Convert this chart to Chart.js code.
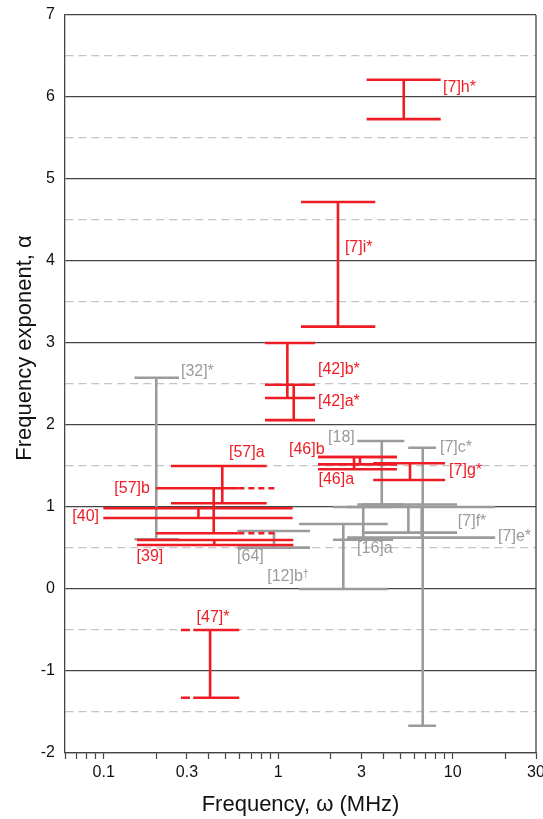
<!DOCTYPE html>
<html>
<head>
<meta charset="utf-8">
<script src="https://cdn.jsdelivr.net/npm/chart.js@4"></script>
<style>
  html, body { margin: 0; padding: 0; background: #fff; }
  #wrap { width: 543px; height: 819px; }
</style>
</head>
<body>
<div id="wrap"><canvas id="alphaChart"></canvas></div>
<script>
// one entry per study: band of frequencies (MHz) and range of the exponent alpha
const studies  = ['[7]h*', '[7]i*', '[42]b*', '[42]a*', '[57]a', '[57]b', '[40]', '[39]', '[47]*', '[46]b', '[46]a', '[7]g*',
                  '[32]*', '[64]', '[12]b\u2020', '[16]a', '[18]', '[7]c*', '[7]f*', '[7]e*'];
const group    = ['A', 'A', 'A', 'A', 'A', 'A', 'A', 'A', 'A', 'A', 'A', 'A',
                  'B', 'B', 'B', 'B', 'B', 'B', 'B', 'B'];
const fLow     = [3.21, 1.35, 0.84, 0.84, 0.243, 0.199, 0.0995, 0.155, 0.326, 1.69, 1.69, 3.5,
                  0.150, 0.583, 1.316, 2.06, 2.84, 5.56, 3.02, 2.48];
const fHigh    = [8.53, 3.6, 1.625, 1.625, 0.859, 0.591, 1.21, 1.22, 0.598, 4.79, 4.79, 9.04,
                  0.27, 1.52, 4.24, 4.55, 5.28, 8.02, 10.58, 17.5];
const fBar     = [5.24, 2.2, 1.128, 1.227, 0.478, 0.427, 0.349, 0.43, 0.407, 2.94, 2.72, 5.69,
                  0.2, 0.946, 2.36, 3.07, 3.92, 6.73, 5.57, 6.64];
const alphaLo  = [5.73, 3.2, 2.33, 2.06, 1.045, 0.679, 0.866, 0.537, -1.326, 1.52, 1.46, 1.33,
                  0.606, 0.504, 0.0, 0.6, 1.03, -1.667, 0.687, 0.626];
const alphaHi  = [6.21, 4.72, 3.0, 2.49, 1.50, 1.228, 0.984, 0.598, -0.5, 1.61, 1.61, 1.533,
                  2.577, 0.707, 0.793, 1.0, 1.805, 1.723, 1.03, 1.0];
// tentative band edges, drawn dashed
const fDashed  = [null, null, null, null, null, 1.0, null, null, 0.277, null, null, null,
                  null, null, null, null, null, null, null, null];

const xTickLabels = [0.1, 0.3, 1, 3, 10, 30];
const yTickLabels = [-2, -1, 0, 1, 2, 3, 4, 5, 6, 7];

const RED = '#ee1d25';
const GREY = '#9b9b9b';
const FONT = '"Liberation Sans", Arial, sans-serif';
const colourOf = g => g === 'A' ? RED : GREY;

// where each study's name goes: [frequency, alpha, text alignment]
const labelAt = {
  '[7]h*':  [8.8, 6.11, 'left'],
  '[7]i*':  [2.41, 4.16, 'left'],
  '[42]b*': [1.69, 2.67, 'left'],
  '[42]a*': [1.69, 2.28, 'left'],
  '[57]a':  [0.522, 1.66, 'left'],
  '[57]b':  [0.184, 1.23, 'right'],
  '[40]':   [0.094, 0.88, 'right'],
  '[39]':   [0.184, 0.40, 'center'],
  '[47]*':  [0.423, -0.354, 'center'],
  '[46]b':  [1.152, 1.70, 'left'],
  '[46]a':  [1.70, 1.33, 'left'],
  '[7]g*':  [9.53, 1.45, 'left'],
  '[32]*':  [0.277, 2.646, 'left'],
  '[64]':   [0.581, 0.39, 'left'],
  '[12]b\u2020': [1.5, 0.146, 'right'],
  '[16]a':  [2.83, 0.49, 'left'],
  '[18]':   [1.93, 1.85, 'left'],
  '[7]c*':  [8.45, 1.72, 'left'],
  '[7]f*':  [10.7, 0.817, 'left'],
  '[7]e*':  [18.2, 0.634, 'left']
};

// every study becomes a bar with two caps; gaps (null) split the segments
const datasets = [];
studies.forEach((name, i) => {
  const c = colourOf(group[i]);
  datasets.push({
    label: name,
    data: [
      {x: fBar[i], y: alphaLo[i]}, {x: fBar[i], y: alphaHi[i]}, {x: fBar[i], y: null},
      {x: fLow[i], y: alphaHi[i]}, {x: fHigh[i], y: alphaHi[i]}, {x: fHigh[i], y: null},
      {x: fLow[i], y: alphaLo[i]}, {x: fHigh[i], y: alphaLo[i]}
    ],
    borderColor: c,
    borderWidth: 2.6,
    showLine: true,
    spanGaps: false,
    pointRadius: 0,
    order: group[i] === 'A' ? 0 : 1
  });
  if (fDashed[i] !== null) {
    const from = fDashed[i] > fHigh[i] ? fHigh[i] : fDashed[i];
    const to = fDashed[i] > fHigh[i] ? fDashed[i] : fLow[i];
    datasets.push({
      label: name + ' (dashed)',
      data: [
        {x: from, y: alphaHi[i]}, {x: to, y: alphaHi[i]}, {x: to, y: null},
        {x: from, y: alphaLo[i]}, {x: to, y: alphaLo[i]}
      ],
      borderColor: c,
      borderWidth: 2.6,
      borderDash: fDashed[i] > fHigh[i] ? [6, 4] : [9, 4],
      showLine: true,
      spanGaps: false,
      pointRadius: 0,
      order: 0
    });
  }
});

// minor ticks 0.06 .. 30 on the log axis
const logTicks = [];
for (let e = -2; e <= 1; e++) {
  for (let m = 1; m <= 9; m++) {
    const v = parseFloat((m * Math.pow(10, e)).toPrecision(3));
    if (v >= 0.06 && v <= 30) logTicks.push(v);
  }
}

const studyLabels = {
  id: 'studyLabels',
  afterDatasetsDraw(chart) {
    const {ctx, scales: {x, y}} = chart;
    ctx.save();
    ctx.textBaseline = 'middle';
    studies.forEach((name, i) => {
      const p = labelAt[name];
      const px = x.getPixelForValue(p[0]);
      const py = y.getPixelForValue(p[1]);
      ctx.fillStyle = colourOf(group[i]);
      if (name.endsWith('\u2020')) {
        // dagger set smaller and raised
        const base = name.slice(0, -1);
        ctx.font = '16px ' + FONT;
        const wb = ctx.measureText(base).width;
        ctx.font = '11px ' + FONT;
        const wd = ctx.measureText('\u2020').width;
        const left = p[2] === 'right' ? px - wb - wd : px;
        ctx.textAlign = 'left';
        ctx.font = '16px ' + FONT;
        ctx.fillText(base, left, py);
        ctx.font = '11px ' + FONT;
        ctx.fillText('\u2020', left + wb, py - 3);
      } else {
        ctx.font = '16px ' + FONT;
        ctx.textAlign = p[2];
        ctx.fillText(name, px, py);
      }
    });
    ctx.restore();
  }
};

// right edge of the box and the rotated y title
const frame = {
  id: 'frame',
  afterDraw(chart) {
    const {ctx, chartArea: a} = chart;
    ctx.save();
    ctx.strokeStyle = '#444';
    ctx.lineWidth = 1.3;
    ctx.beginPath();
    ctx.moveTo(a.right, a.top);
    ctx.lineTo(a.right, a.bottom);
    ctx.stroke();
    ctx.translate(25, 348);
    ctx.rotate(-Math.PI / 2);
    ctx.fillStyle = '#111';
    ctx.font = '22px ' + FONT;
    ctx.textAlign = 'center';
    ctx.textBaseline = 'middle';
    ctx.fillText('Frequency exponent, \u03b1', 0, 0);
    ctx.restore();
  }
};

new Chart(document.getElementById('alphaChart'), {
  type: 'scatter',
  data: {datasets: datasets},
  options: {
    responsive: true,
    maintainAspectRatio: false,
    animation: false,
    layout: {padding: {top: 15, right: 7, bottom: 0, left: 0}},
    plugins: {legend: {display: false}, tooltip: {enabled: false}},
    scales: {
      x: {
        type: 'logarithmic',
        min: 0.06,
        max: 30,
        afterBuildTicks: scale => { scale.ticks = logTicks.map(v => ({value: v})); },
        afterFit: scale => { scale.height = 66; scale.paddingLeft = 0; scale.paddingRight = 0; },
        ticks: {
          autoSkip: false,
          maxRotation: 0,
          padding: 4,
          color: '#111',
          font: {size: 16, family: FONT},
          callback: v => xTickLabels.includes(v) ? String(v) : ''
        },
        grid: {drawOnChartArea: false, drawTicks: true, tickLength: 6, tickColor: '#444', tickWidth: 1.2},
        border: {color: '#444', width: 1.3},
        title: {
          display: true,
          text: 'Frequency, \u03c9 (MHz)',
          color: '#111',
          font: {size: 22, family: FONT},
          padding: {top: 0, bottom: 1}
        }
      },
      y: {
        min: -2,
        max: 7,
        afterFit: scale => { scale.width = 65; scale.paddingTop = 0; scale.paddingBottom = 0; },
        ticks: {
          stepSize: 0.5,
          padding: 10,
          color: '#111',
          font: {size: 16, family: FONT},
          callback: v => yTickLabels.includes(v) ? String(v) : ''
        },
        grid: {
          drawTicks: false,
          lineWidth: 1.2,
          color: c => Number.isInteger(c.tick.value) ? '#444' : '#c4c4c4'
        },
        border: {
          color: '#444',
          width: 1.3,
          dash: c => (c.tick && !Number.isInteger(c.tick.value)) ? [8, 5] : []
        }
      }
    }
  },
  plugins: [studyLabels, frame]
});
</script>
</body>
</html>
